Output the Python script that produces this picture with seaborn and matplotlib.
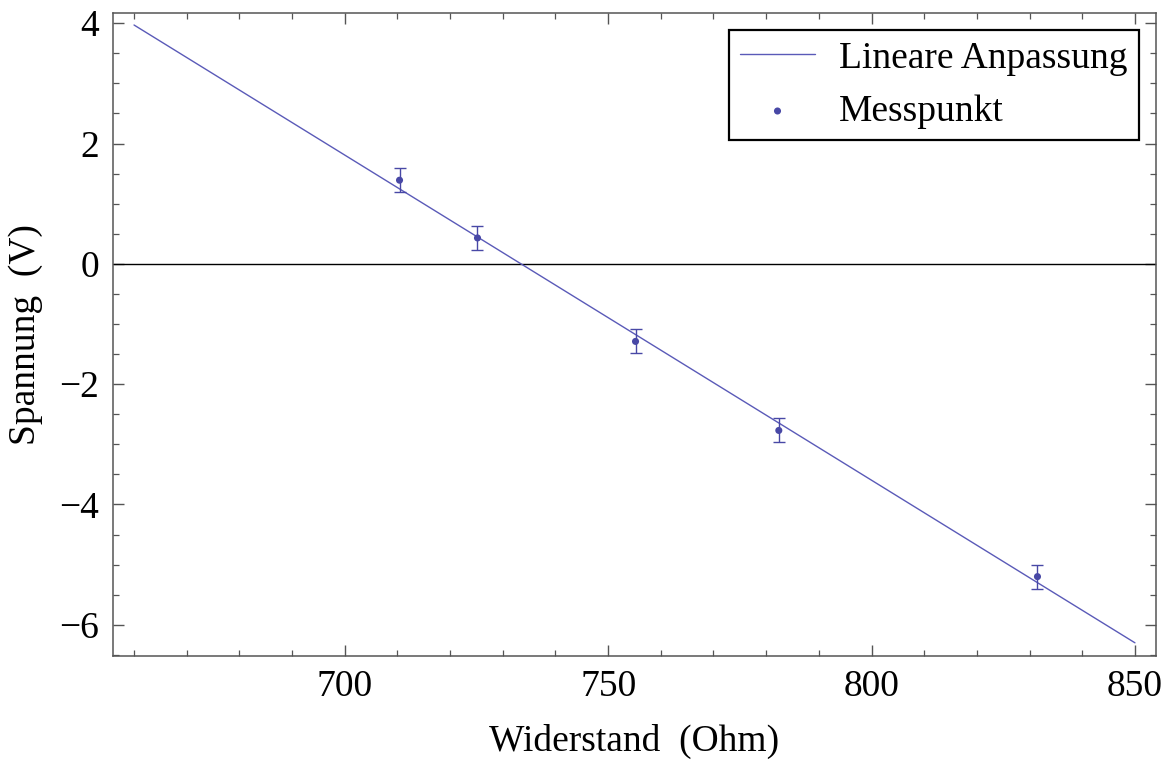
import matplotlib
matplotlib.use("Agg")
import matplotlib.pyplot as plt
from matplotlib.ticker import MultipleLocator
import seaborn as sns
import pandas as pd

widerstand = [710.4, 725.2, 755.2, 782.4, 831.5]
spannung = [1.39, 0.43, -1.29, -2.77, -5.20]
fehler = [0.2, 0.2, 0.2, 0.2, 0.2]

# Lineare Anpassung (Endpunkte)
fit_x = [660, 850]
fit_y = [3.97, -6.30]

df = pd.DataFrame({"R": widerstand, "U": spannung})
df_fit = pd.DataFrame({"R": fit_x, "U": fit_y})

sns.set_style("ticks")
plt.rcParams['font.family'] = ['Liberation Serif', 'DejaVu Serif']
plt.rcParams['text.color'] = 'black'
plt.rcParams['axes.labelcolor'] = 'black'
plt.rcParams['xtick.labelcolor'] = 'black'
plt.rcParams['ytick.labelcolor'] = 'black'

fig = plt.figure(figsize=(11.73, 7.63), dpi=100)
ax = fig.add_axes([0.0963, 0.1402, 0.8892, 0.8428])

line_col = "#5a5ab8"
pt_col = "#4848a6"

ax.axhline(0, color="black", lw=1.0, zorder=1)
sns.lineplot(data=df_fit, x="R", y="U", ax=ax, color=line_col, lw=1.0,
             label="Lineare Anpassung", zorder=2)
ax.errorbar(widerstand, spannung, yerr=fehler, fmt="none", ecolor=pt_col,
            elinewidth=1.0, capsize=4, capthick=1.0, zorder=3)
sns.scatterplot(data=df, x="R", y="U", ax=ax, color=pt_col, s=26,
                edgecolor="none", label="Messpunkt", zorder=4)

ax.set_xlim(656, 854)
ax.set_ylim(-6.52, 4.17)
ax.xaxis.set_major_locator(MultipleLocator(50))
ax.xaxis.set_minor_locator(MultipleLocator(10))
ax.yaxis.set_minor_locator(MultipleLocator(0.5))
ax.set_yticks([4, 2, 0, -2, -4, -6])
ax.set_yticklabels(["4", "2", "0", "\u22122", "\u22124", "\u22126"])

ax.tick_params(which="both", direction="in", top=True, right=True,
               labelsize=27, color="#555555", labelcolor="black", pad=10)
ax.tick_params(which="major", length=8, width=1.0)
ax.tick_params(which="minor", length=4.5, width=0.9)
for s in ax.spines.values():
    s.set_color("#555555")
    s.set_linewidth(1.1)

ax.set_xlabel("Widerstand  (Ohm)", fontsize=27, labelpad=14, color="black")
ax.set_ylabel("Spannung  (V)", fontsize=27, labelpad=12, color="black")

leg = ax.legend(loc="upper right", fontsize=27, frameon=True, fancybox=False,
                edgecolor="black", framealpha=1, borderpad=0.3,
                handlelength=2.0, handletextpad=0.65, labelspacing=0.5,
                borderaxespad=0.45)
leg.get_frame().set_linewidth(1.6)
for t in leg.get_texts():
    t.set_color("black")

fig.savefig("out.png", dpi=100)
